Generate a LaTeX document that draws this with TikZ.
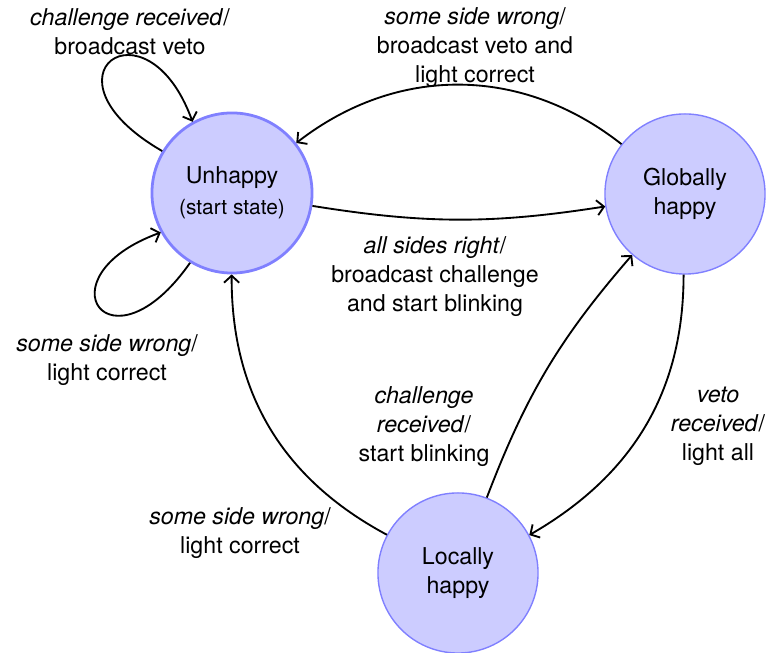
\documentclass[tikz,border=0pt]{standalone}
\usepackage{fontspec}
\setmainfont{TeX Gyre Heros}
\usetikzlibrary{arrows.meta}

\begin{document}
\begin{tikzpicture}[x=0.431pt, y=0.431pt,
  every node/.style={font=\fontsize{10}{12.5}\selectfont},
  state/.style={circle, draw=blue!50, fill=blue!20, semithick, minimum size=69pt, inner sep=0pt, align=center},
  lbl/.style={align=center},
  arr/.style={-{Straight Barb[length=3pt,width=6.5pt]}, thick}]
\useasboundingbox (0,0) rectangle (778,653);
\node[state, very thick] (u) at (232,460) {Unhappy\\[1pt]{\small (start state)}};
\node[state] (g) at (685,459) {Globally\\happy};
\node[state] (l) at (458,80) {Locally\\happy};
% transitions
\draw[arr] (u.149) .. controls +(150:150) and +(110:135) .. (u.119);
\draw[arr] (u.239) .. controls +(235:140) and +(200:130) .. (u.209);
\draw[arr] (g) to[bend right=38] (u);
\draw[arr] (u) to[bend right=9] (g);
\draw[arr] (g.-91) to[out=-90, in=30] (l.28);
\draw[arr] (l) to[bend left=10] (g);
\draw[arr] (l) to[bend left=31] (u);
% labels
\node[lbl] (lu1) at (130,621) {\textit{challenge received}/\\broadcast veto};
\node[lbl] (lu2) at (107,293) {\textit{some side wrong}/\\light correct};
\node[lbl] (lgu) at (475,605) {\textit{some side wrong}/\\broadcast veto and\\light correct};
\node[lbl] (lug) at (435,376) {\textit{all sides right}/\\broadcast challenge\\and start blinking};
\node[lbl] (lgl) at (718,227) {\textit{veto}\\\textit{received}/\\light all};
\node[lbl] (llg) at (424,226) {\textit{challenge}\\\textit{received}/\\start blinking};
\node[lbl] (llu) at (240,120) {\textit{some side wrong}/\\light correct};
\end{tikzpicture}
\end{document}
